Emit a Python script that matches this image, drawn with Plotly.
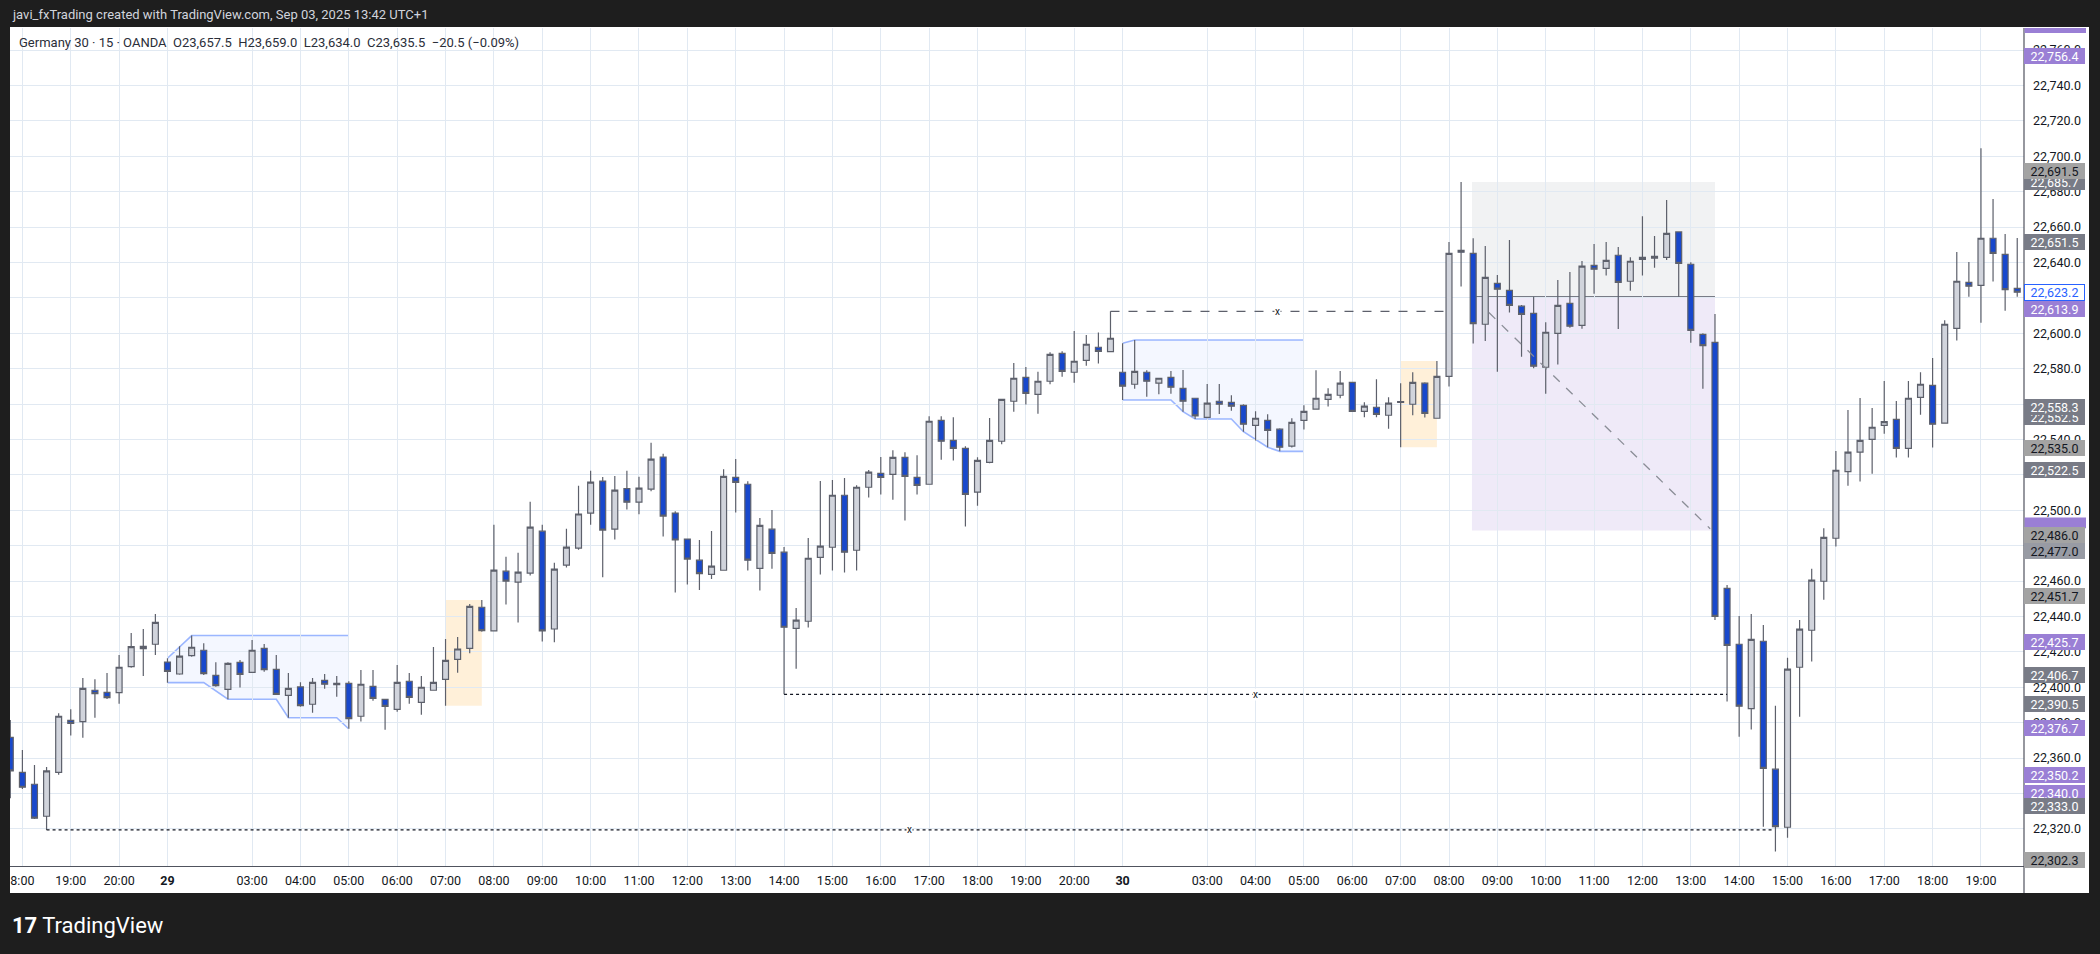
import plotly.graph_objects as go

# ---------------- bar times (15 min, OANDA session, UTC+1) ----------------
sessions = [("Aug 28", (17, 45), (20, 45)), ("Aug 29", (1, 15), (20, 45)), ("Aug 30", (1, 15), (19, 45))]
times = []
for day, (h0, m0), (h1, m1) in sessions:
    t = h0 * 60 + m0
    while t <= h1 * 60 + m1:
        times.append(f"{day} {t // 60:02d}:{t % 60:02d}")
        t += 15

# ---------------- OHLC values ----------------
open_ = [22371.7, 22351.9, 22345.2, 22327.1, 22351.9, 22381.3, 22380.6, 22398.3, 22397.1, 22397.0,
         22411.6, 22423.1, 22424.3, 22414.2, 22407.5, 22417.9, 22420.9, 22406.7, 22398.8, 22414.1,
         22408.4, 22422.0, 22410.1, 22395.4, 22400.2, 22390.4, 22403.9, 22402.2, 22402.2, 22383.6,
         22400.5, 22393.2, 22387.5, 22403.4, 22391.5, 22398.3, 22404.5, 22415.8, 22422.0, 22445.2,
         22431.8, 22465.6, 22459.4, 22464.5, 22488.2, 22432.9, 22469.0, 22478.6, 22498.4, 22516.5,
         22489.4, 22512.2, 22504.6, 22512.0, 22530.1, 22498.4, 22483.7, 22471.8, 22463.8, 22466.1,
         22518.6, 22514.7, 22467.2, 22489.3, 22476.3, 22433.3, 22437.3, 22473.4, 22479.1, 22508.5,
         22477.4, 22513.0, 22520.9, 22520.3, 22529.9, 22518.6, 22514.7, 22550.8, 22539.5, 22535.0,
         22510.2, 22527.1, 22539.0, 22561.6, 22575.1, 22565.5, 22572.9, 22588.7, 22578.0, 22584.7,
         22592.1, 22589.6, 22578.0, 22571.2, 22578.0, 22571.8, 22575.1, 22568.9, 22563.3, 22552.5,
         22561.6, 22561.0, 22559.3, 22548.0, 22550.8, 22545.8, 22536.2, 22550.8, 22557.1, 22562.7,
         22565.0, 22572.3, 22555.9, 22558.2, 22553.7, 22561.4, 22559.9, 22571.8, 22552.0, 22575.7,
         22646.9, 22645.2, 22605.1, 22628.2, 22624.3, 22615.3, 22611.3, 22580.8, 22600.0, 22616.9,
         22604.5, 22638.4, 22636.7, 22644.1, 22629.4, 22641.8, 22642.4, 22642.9, 22657.3, 22639.0,
         22599.4, 22594.9, 22455.9, 22424.3, 22387.9, 22426.0, 22353.7, 22320.9, 22411.3, 22432.2,
         22459.9, 22484.2, 22521.8, 22532.8, 22540.1, 22548.0, 22551.4, 22535.0, 22563.8, 22570.6,
         22549.2, 22602.8, 22628.8, 22627.1, 22653.7, 22644.6, 22625.4]
high = [22381.5, 22364.6, 22356.1, 22355.0, 22385.3, 22387.5, 22405.2, 22404.5, 22408.1, 22418.2,
        22430.7, 22432.9, 22441.4, 22416.4, 22423.1, 22429.2, 22424.8, 22414.1, 22414.1, 22415.4,
        22426.7, 22424.4, 22418.2, 22408.1, 22402.8, 22405.2, 22407.5, 22406.4, 22403.4, 22409.8,
        22409.8, 22393.4, 22412.6, 22408.1, 22406.4, 22422.8, 22427.3, 22428.4, 22447.0, 22449.3,
        22491.8, 22473.7, 22476.0, 22504.8, 22491.8, 22470.4, 22489.6, 22513.9, 22522.3, 22518.8,
        22519.3, 22522.3, 22518.9, 22538.2, 22531.9, 22499.5, 22484.0, 22483.2, 22488.3, 22523.2,
        22529.0, 22516.4, 22495.7, 22500.2, 22479.3, 22444.8, 22484.4, 22516.6, 22517.1, 22518.3,
        22514.1, 22522.8, 22530.1, 22533.9, 22532.8, 22531.1, 22553.1, 22553.1, 22552.5, 22536.2,
        22529.9, 22552.2, 22563.0, 22583.2, 22581.0, 22578.2, 22589.3, 22589.8, 22601.3, 22599.1,
        22600.4, 22612.4, 22594.4, 22596.2, 22579.1, 22574.8, 22578.7, 22579.3, 22563.5, 22571.4,
        22571.4, 22565.0, 22559.9, 22555.9, 22554.2, 22546.3, 22552.0, 22559.3, 22579.1, 22568.9,
        22578.7, 22572.5, 22561.0, 22574.0, 22563.8, 22571.8, 22578.0, 22572.3, 22584.4, 22651.6,
        22685.5, 22653.7, 22649.3, 22633.0, 22652.7, 22616.0, 22620.7, 22606.2, 22630.1, 22634.7,
        22640.9, 22650.5, 22651.6, 22648.8, 22642.9, 22666.1, 22655.0, 22675.3, 22657.5, 22640.1,
        22600.0, 22610.9, 22457.8, 22440.3, 22441.4, 22435.2, 22389.5, 22416.6, 22438.0, 22466.9,
        22489.8, 22533.5, 22556.7, 22563.5, 22557.8, 22573.1, 22561.8, 22573.1, 22578.0, 22586.1,
        22607.3, 22646.0, 22640.3, 22704.5, 22675.9, 22656.1, 22653.9]
low = [22337.3, 22342.5, 22325.5, 22319.4, 22350.6, 22372.7, 22371.5, 22382.8, 22393.4, 22390.7,
       22411.0, 22406.4, 22418.2, 22402.6, 22407.0, 22417.3, 22406.9, 22400.3, 22393.2, 22399.8,
       22408.0, 22408.8, 22395.8, 22382.8, 22389.0, 22385.6, 22399.2, 22394.7, 22376.5, 22380.6,
       22392.4, 22376.0, 22386.2, 22390.7, 22384.5, 22398.0, 22389.6, 22408.2, 22419.2, 22431.4,
       22431.5, 22446.8, 22436.6, 22463.2, 22425.9, 22425.4, 22467.7, 22477.7, 22491.8, 22462.1,
       22483.5, 22500.5, 22497.7, 22510.7, 22485.2, 22453.6, 22458.1, 22455.0, 22461.2, 22465.8,
       22498.7, 22465.9, 22454.6, 22467.0, 22396.0, 22410.5, 22433.7, 22463.7, 22465.9, 22464.8,
       22465.9, 22507.2, 22508.9, 22506.0, 22494.2, 22508.9, 22514.5, 22528.6, 22528.1, 22490.8,
       22502.6, 22526.6, 22537.3, 22555.7, 22559.7, 22554.6, 22571.2, 22575.5, 22572.1, 22581.7,
       22582.9, 22589.3, 22562.3, 22568.7, 22564.2, 22565.5, 22565.9, 22555.7, 22551.6, 22552.0,
       22554.4, 22556.3, 22544.4, 22539.4, 22535.6, 22533.3, 22535.4, 22545.6, 22556.9, 22558.6,
       22563.3, 22555.7, 22552.5, 22552.5, 22546.1, 22535.6, 22553.7, 22552.4, 22551.8, 22569.9,
       22626.4, 22594.2, 22595.7, 22578.3, 22611.7, 22586.8, 22580.2, 22565.9, 22582.3, 22603.2,
       22602.6, 22622.4, 22632.6, 22602.4, 22624.1, 22632.6, 22637.1, 22641.4, 22620.7, 22594.7,
       22568.6, 22438.0, 22391.9, 22372.1, 22376.1, 22321.2, 22307.2, 22315.0, 22383.4, 22414.5,
       22449.5, 22479.5, 22513.9, 22516.2, 22520.7, 22543.3, 22529.8, 22529.8, 22554.0, 22535.4,
       22549.0, 22595.9, 22620.7, 22606.0, 22629.2, 22612.8, 22620.7]
close = [22352.7, 22343.5, 22326.0, 22352.7, 22383.6, 22379.6, 22399.4, 22396.4, 22394.1, 22411.3,
         22422.9, 22421.8, 22436.7, 22409.0, 22417.6, 22422.6, 22407.7, 22400.9, 22413.5, 22407.3,
         22420.9, 22409.9, 22396.0, 22399.4, 22389.6, 22402.8, 22401.7, 22401.5, 22382.3, 22401.7,
         22393.7, 22389.2, 22402.8, 22394.3, 22400.0, 22402.8, 22415.2, 22421.6, 22445.7, 22432.0,
         22466.2, 22460.0, 22465.1, 22490.5, 22431.8, 22466.8, 22479.2, 22497.9, 22515.9, 22488.8,
         22511.4, 22504.6, 22512.5, 22528.9, 22496.7, 22483.2, 22472.4, 22464.2, 22468.4, 22519.2,
         22515.8, 22471.8, 22491.5, 22475.7, 22433.9, 22437.9, 22472.9, 22479.7, 22508.5, 22476.3,
         22513.0, 22521.5, 22518.6, 22529.9, 22519.2, 22514.1, 22550.3, 22539.0, 22535.0, 22509.0,
         22528.2, 22539.5, 22562.7, 22574.6, 22566.1, 22572.9, 22588.1, 22578.5, 22584.2, 22593.8,
         22589.8, 22597.2, 22570.1, 22578.5, 22572.9, 22574.6, 22569.5, 22561.6, 22553.3, 22560.5,
         22559.9, 22558.8, 22548.6, 22552.0, 22545.2, 22535.6, 22549.7, 22555.9, 22563.3, 22565.5,
         22571.8, 22555.9, 22558.8, 22554.2, 22560.5, 22561.0, 22572.3, 22554.8, 22575.7, 22645.2,
         22645.8, 22605.5, 22631.6, 22624.9, 22615.8, 22610.7, 22581.4, 22600.6, 22615.8, 22604.0,
         22637.9, 22636.2, 22641.2, 22628.8, 22640.7, 22642.9, 22643.5, 22656.5, 22639.5, 22601.7,
         22593.0, 22440.0, 22423.7, 22389.3, 22427.1, 22354.2, 22321.2, 22410.2, 22432.8, 22460.5,
         22484.7, 22522.6, 22532.8, 22539.5, 22546.9, 22550.1, 22535.0, 22563.3, 22571.2, 22548.6,
         22605.1, 22629.4, 22626.6, 22653.7, 22645.2, 22624.7, 22623.2]

# ---------------- time-axis labels ----------------
tick_times = ["Aug 28 18:00", "Aug 28 19:00", "Aug 28 20:00", "Aug 29 01:15"] + \
             [f"Aug 29 {h:02d}:00" for h in range(3, 21)] + ["Aug 30 01:15"] + \
             [f"Aug 30 {h:02d}:00" for h in range(3, 20)]
tick_text = ["8:00", "19:00", "20:00", "<b>29</b>"] + [f"{h:02d}:00" for h in range(3, 21)] + \
            ["<b>30</b>"] + [f"{h:02d}:00" for h in range(3, 20)]
tick_idx = [times.index(t) for t in tick_times]
price_ticks = list(range(22320, 22761, 20))
covered_ticks = [22620, 22560, 22520, 22480, 22340]   # labels fully hidden behind price tags
price_text = ["" if p in covered_ticks else f"{p:,.1f}" for p in price_ticks]

# ---------------- drawings (bar index, price) ----------------
zone1_top = [(13, 22416.4), (15, 22429.2), (28, 22429.2)]
zone1_bot = [(13, 22402.6), (16, 22402.6), (18, 22393.2), (22, 22393.2), (23, 22382.8), (27, 22382.8), (28, 22376.4)]
zone2_top = [(92, 22594.4), (93, 22596.2), (107, 22596.2)]
zone2_bot = [(92, 22562.3), (96, 22562.3), (97, 22555.7), (98, 22551.6), (101, 22551.6), (102, 22544.4),
             (104, 22535.6), (105, 22533.3), (107, 22533.3)]
orange_boxes = [(36, 39, 22389.6, 22449.3), (115, 118, 22535.6, 22584.4)]
pos_x0, pos_x1 = 120.9, 141.0
pos_entry, pos_stop, pos_target = 22620.7, 22685.5, 22488.5
pos_path = [(122.3, 22611.7), (140.6, 22489.6)]
liq_lines = [(3, 145.8, 22319.4, "dot", "#131722"), (64, 142.0, 22396.0, "dot", "#131722"),
             (91, 118.6, 22612.4, "dash", "#5d606b")]

# ---------------- right-axis price tags ----------------
tags = [(22756.4, "purple"), (22685.7, "dark"), (22691.5, "light"), (22651.5, "dark"),
        (22623.2, "last"), (22613.9, "purple"), (22552.5, "dark"), (22558.3, "dark"),
        (22535.0, "light"), (22522.5, "dark"), (22486.0, "light"),
        (22477.0, "mid"), (22451.7, "light"), (22425.7, "purple"), (22406.7, "dark"),
        (22390.5, "dark"), (22376.7, "purple"), (22350.2, "purple"), (22340.0, "purple"),
        (22333.0, "dark"), (22302.3, "light")]
hidden_tag = 22491.4          # purple tag almost fully covered (only a sliver shows)
tag_style = {"purple": ("#9a7fd5", "white", None), "dark": ("#787b86", "white", None),
             "light": ("#a3a3a3", "#131722", None), "mid": ("#989ba4", "#131722", None),
             "last": ("white", "#2962ff", "#2962ff")}

PL, PR, PT, PB = 10, 2024, 28, 866
PW, PH = PR - PL, PB - PT
GRID = "#e1e9f2"
FONT = "Roboto"

fig = go.Figure()


def path_of(top, bot):
    pts = top + bot[::-1]
    return "M " + " L ".join(f"{x},{y}" for x, y in pts) + " Z"


def line_path(pts):
    return "M " + " L ".join(f"{x},{y}" for x, y in pts)


shapes = []
# white chart panel
shapes.append(dict(type="rect", xref="paper", yref="paper", x0=0, x1=(2089 - PL) / PW,
                   y0=-(893 - PB) / PH, y1=1 + 1 / PH, fillcolor="white", line=dict(width=0), layer="below"))
for top, bot in [(zone1_top, zone1_bot), (zone2_top, zone2_bot)]:
    shapes.append(dict(type="path", xref="x", yref="y", path=path_of(top, bot),
                       fillcolor="rgba(41,98,255,0.05)", line=dict(width=0), layer="below"))
    shapes.append(dict(type="path", xref="x", yref="y", path=line_path(top),
                       line=dict(color="rgba(41,98,255,0.45)", width=1.6), layer="below"))
    shapes.append(dict(type="path", xref="x", yref="y", path=line_path(bot),
                       line=dict(color="rgba(41,98,255,0.45)", width=1.6), layer="below"))
for x0, x1, y0, y1 in orange_boxes:
    shapes.append(dict(type="rect", xref="x", yref="y", x0=x0, x1=x1, y0=y0, y1=y1,
                       fillcolor="rgba(255,152,0,0.15)", line=dict(width=0), layer="below"))
shapes.append(dict(type="rect", xref="x", yref="y", x0=pos_x0, x1=pos_x1, y0=pos_entry, y1=pos_stop,
                   fillcolor="rgba(120,123,134,0.10)", line=dict(width=0), layer="below"))
shapes.append(dict(type="rect", xref="x", yref="y", x0=pos_x0, x1=pos_x1, y0=pos_target, y1=pos_entry,
                   fillcolor="rgba(149,117,205,0.15)", line=dict(width=0), layer="below"))
shapes.append(dict(type="line", xref="x", yref="y", x0=pos_x0, x1=pos_x1, y0=pos_entry, y1=pos_entry,
                   line=dict(color="#787b86", width=1.2), layer="below"))
shapes.append(dict(type="line", xref="x", yref="y", x0=pos_path[0][0], y0=pos_path[0][1],
                   x1=pos_path[1][0], y1=pos_path[1][1], line=dict(color="#8a8d96", width=1.3, dash="dash"),
                   layer="above"))
for x0, x1, yv, dash, col in liq_lines:
    shapes.append(dict(type="line", xref="x", yref="y", x0=x0, x1=x1, y0=yv, y1=yv,
                       line=dict(color=col, width=1.2, dash=dash), layer="above"))
# right axis separator running through the time-scale strip
shapes.append(dict(type="line", xref="paper", yref="paper", x0=1, x1=1, y0=-(893 - PB) / PH, y1=1,
                   line=dict(color="#50535e", width=1.2), layer="above"))
# clipped purple tag at the very top of the price scale
shapes.append(dict(type="rect", xref="paper", yref="paper", x0=1.0003, x1=(2086 - PL) / PW,
                   y0=1 - 5 / PH, y1=1, fillcolor="#9a7fd5", line=dict(width=0), layer="above"))
# sliver of the covered purple tag
shapes.append(dict(type="rect", xref="paper", yref="y", x0=1.0003, x1=(2086 - PL) / PW,
                   y0=hidden_tag - 1.5, y1=hidden_tag + 4.5, fillcolor="#9a7fd5", line=dict(width=0),
                   layer="above"))

fig.add_trace(go.Candlestick(
    x=list(range(len(times))), open=open_, high=high, low=low, close=close,
    increasing=dict(line=dict(color="#5d606b", width=1.2), fillcolor="#d1d4dc"),
    decreasing=dict(line=dict(color="#5d606b", width=1.2), fillcolor="#1848cc"),
    whiskerwidth=0, hoverinfo="skip", showlegend=False))

ann = []
for x0, x1, yv, dash, col in liq_lines:
    ann.append(dict(x=(x0 + x1) / 2, y=yv, xref="x", yref="y", text="x", showarrow=False,
                    font=dict(family=FONT, size=10, color="#131722"), bgcolor="white", borderpad=0))
for val, kind in tags:
    bg, fg, bc = tag_style[kind]
    ann.append(dict(xref="paper", x=1, xanchor="left", yref="y", y=val, yanchor="middle",
                    text=f"{val:,.1f}", showarrow=False, bgcolor=bg,
                    font=dict(family=FONT, size=12.5, color=fg),
                    width=56 if bc else 58, height=12 if bc else 13, borderpad=1.5,
                    bordercolor=bc if bc else bg, borderwidth=1 if bc else 0, align="center"))
ann.append(dict(xref="paper", yref="paper", x=0, y=1 + (PT - 15) / PH, xanchor="left", yanchor="middle",
                text="javi_fxTrading created with TradingView.com, Sep 03, 2025 13:42 UTC+1", showarrow=False,
                font=dict(family=FONT, size=13, color="#d1d4dc")))
ann.append(dict(xref="paper", yref="paper", x=0, xshift=7, y=1 - (42 - PT) / PH, xanchor="left", yanchor="middle",
                text="Germany 30 · 15 · OANDA\u00a0\u00a0O23,657.5\u00a0\u00a0H23,659.0\u00a0\u00a0L23,634.0\u00a0\u00a0C23,635.5\u00a0\u00a0−20.5 (−0.09%)",
                showarrow=False, font=dict(family=FONT, size=13, color="#2a2e39")))
ann.append(dict(xref="paper", yref="paper", x=0, xshift=0, y=-(925 - PB) / PH, xanchor="left", yanchor="middle",
                text="<b>17</b> TradingView", showarrow=False, font=dict(family=FONT, size=22, color="white")))

fig.update_layout(
    width=2100, height=954, margin=dict(l=PL, r=2100 - PR, t=PT, b=954 - PB),
    paper_bgcolor="#1e1e1e", plot_bgcolor="white", showlegend=False, boxgap=0.3,
    shapes=shapes, annotations=ann, hovermode=False,
    xaxis=dict(range=[-0.025, 166.56], tickvals=tick_idx, ticktext=tick_text, showgrid=True,
               gridcolor=GRID, gridwidth=1, zeroline=False, showline=True, linecolor="#50535e", linewidth=1.2,
               ticks="", ticklabelstandoff=3, tickfont=dict(family=FONT, size=12.5, color="#131722"),
               rangeslider=dict(visible=False), fixedrange=True),
    yaxis=dict(side="right", range=[22299.0, 22772.5], tickvals=price_ticks, ticktext=price_text,
               showgrid=True, gridcolor=GRID, gridwidth=1, zeroline=False, showline=False,
               ticks="", ticklabelstandoff=8, tickfont=dict(family=FONT, size=12.5, color="#131722"),
               fixedrange=True),
)

fig.write_html("out.html", config={"displayModeBar": False},
               post_script="document.body.style.margin='0';document.body.style.background='#1e1e1e';")
